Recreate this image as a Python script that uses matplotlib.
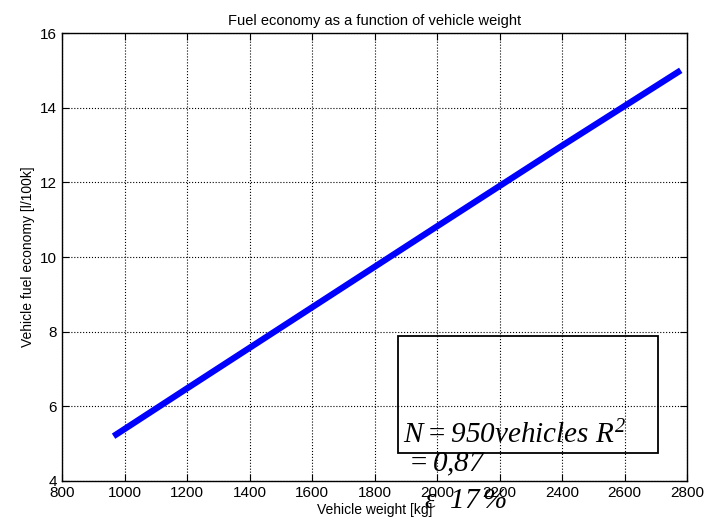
import matplotlib.pyplot as plt

plt.rcParams['font.family'] = ['Liberation Sans', 'DejaVu Sans']
plt.rcParams['mathtext.fontset'] = 'custom'
plt.rcParams['mathtext.rm'] = 'Liberation Serif:italic'
plt.rcParams['mathtext.it'] = 'Liberation Serif:italic'
plt.rcParams['mathtext.fallback'] = 'stix'

# values
weight = [965, 1200, 1600, 2000, 2400, 2780]
economy = [5.2, 6.48, 8.65, 10.82, 12.98, 15.0]
xticks = [800, 1000, 1200, 1400, 1600, 1800, 2000, 2200, 2400, 2600, 2800]
yticks = [4, 6, 8, 10, 12, 14, 16]

fig = plt.figure(figsize=(7.07, 5.21), dpi=100)
ax = fig.add_axes([62 / 707, 40 / 521, 625 / 707, 448 / 521])

ax.plot(weight, economy, color='#0000ff', linewidth=4.5, solid_capstyle='butt')

ax.set_xlim(800, 2800)
ax.set_ylim(4, 16)
ax.set_xticks(xticks)
ax.set_yticks(yticks)
ax.grid(True, color='black', linestyle=':', linewidth=0.8)
ax.tick_params(direction='in', top=True, right=True, labelsize=11, length=5)
for s in ax.spines.values():
    s.set_linewidth(1.0)

ax.set_title('Fuel economy as a function of vehicle weight', fontsize=10.5, pad=6)
ax.set_xlabel('Vehicle weight [kg]', fontsize=10, labelpad=2)
ax.set_ylabel('Vehicle fuel economy [l/100k]', fontsize=10, labelpad=4)

# annotation box
ax.add_patch(plt.Rectangle((1875, 4.75), 832, 3.13, fill=False,
                           edgecolor='black', linewidth=1.3, clip_on=False))
ax.text(1890, 5.0, r'$N = 950 vehicles\ R^2$', fontsize=21,
        ha='left', va='baseline')
ax.text(1893, 4.27, r'$= 0{,}87$', fontsize=21, ha='left', va='baseline',
        clip_on=False)
ax.text(1960, 3.27, r'$\varepsilon\ \ 17\,\%$', fontsize=21,
        ha='left', va='baseline', clip_on=False)

fig.savefig('out.png', dpi=100)
